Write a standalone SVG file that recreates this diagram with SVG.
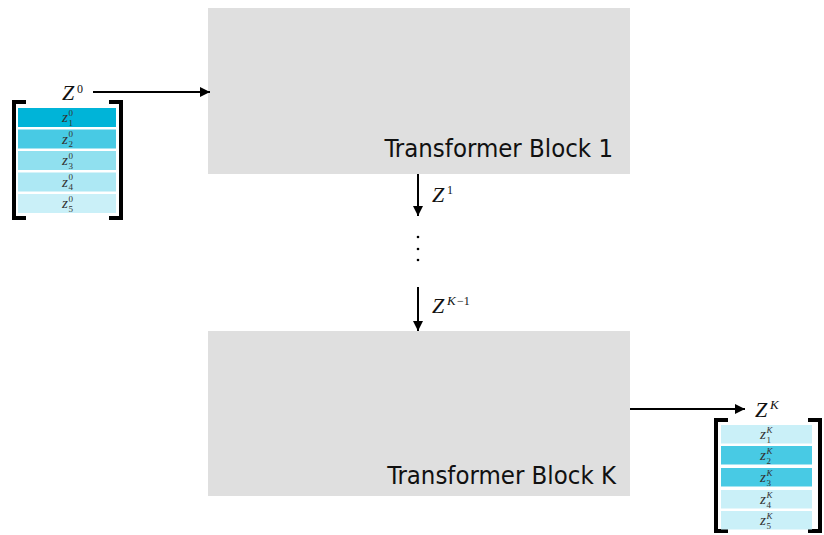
<svg xmlns="http://www.w3.org/2000/svg" width="824" height="535" viewBox="0 0 824 535">
  <defs>
    <marker id="head" viewBox="0 0 10 10" refX="10" refY="5" markerWidth="10" markerHeight="10" markerUnits="userSpaceOnUse" orient="auto">
      <path d="M0,0 L10,5 L0,10 Z" fill="#000"/>
    </marker>
    <style>
      .block { fill: #dfdfdf; }
      .title { font-family: "DejaVu Sans Condensed", "DejaVu Sans", sans-serif; font-size: 25.5px; fill: #111; text-anchor: end; }
      .math { font-family: "Liberation Serif", serif; font-style: italic; font-size: 22px; fill: #111; }
      .sup { font-family: "Liberation Serif", serif; font-size: 12px; fill: #111; }
      .supi { font-family: "Liberation Serif", serif; font-style: italic; font-size: 13px; fill: #111; }
      .cell-text { font-family: "Liberation Serif", serif; font-style: italic; font-size: 15px; fill: #333; }
      .idx { font-family: "Liberation Serif", serif; font-size: 9px; fill: #333; }
      .idxi { font-family: "Liberation Serif", serif; font-style: italic; font-size: 9px; fill: #333; }
      .bracket { fill: none; stroke: #000; stroke-width: 4; }
      .conn { stroke: #000; stroke-width: 2; fill: none; }
    </style>
  </defs>

  <!-- transformer blocks -->
  <g id="block1">
    <rect class="block" x="208" y="8" width="422" height="166"/>
    <text class="title" x="613" y="157">Transformer Block 1</text>
  </g>
  <g id="blockK">
    <rect class="block" x="208" y="331" width="422" height="165"/>
    <text class="title" x="616" y="484">Transformer Block K</text>
  </g>

  <!-- input sequence Z^0 -->
  <g id="input">
    <text class="math" x="62" y="100">Z</text>
    <text class="sup" x="77" y="93">0</text>
    <path class="bracket" d="M26,102 H14 V218 H26"/>
    <path class="bracket" d="M109,102 H121 V218 H109"/>
    <rect x="18" y="108" width="98" height="19" fill="#00b4d8"/>
    <rect x="18" y="129.5" width="98" height="19" fill="#48cae4"/>
    <rect x="18" y="151" width="98" height="19" fill="#90e0ef"/>
    <rect x="18" y="172.5" width="98" height="19" fill="#ade8f4"/>
    <rect x="18" y="194" width="98" height="19" fill="#caf0f8"/>
    <g>
      <text class="cell-text" x="62" y="122">z</text><text class="idx" x="68.5" y="115.5">0</text><text class="idx" x="68.5" y="125.5">1</text>
      <text class="cell-text" x="62" y="143.5">z</text><text class="idx" x="68.5" y="137">0</text><text class="idx" x="68.5" y="147">2</text>
      <text class="cell-text" x="62" y="165">z</text><text class="idx" x="68.5" y="158.5">0</text><text class="idx" x="68.5" y="168.5">3</text>
      <text class="cell-text" x="62" y="186.5">z</text><text class="idx" x="68.5" y="180">0</text><text class="idx" x="68.5" y="190">4</text>
      <text class="cell-text" x="62" y="208">z</text><text class="idx" x="68.5" y="201.5">0</text><text class="idx" x="68.5" y="211.5">5</text>
    </g>
  </g>

  <!-- output sequence Z^K -->
  <g id="output">
    <text class="math" x="755" y="417">Z</text>
    <text class="supi" x="770" y="409">K</text>
    <path class="bracket" d="M728,420 H716 V531 H728"/>
    <path class="bracket" d="M808,420 H820 V531 H808"/>
    <rect x="721" y="425" width="91" height="18.5" fill="#caf0f8"/>
    <rect x="721" y="446" width="91" height="18.5" fill="#48cae4"/>
    <rect x="721" y="468" width="91" height="18.5" fill="#48cae4"/>
    <rect x="721" y="490" width="91" height="18.5" fill="#caf0f8"/>
    <rect x="721" y="511" width="91" height="18.5" fill="#caf0f8"/>
    <g>
      <text class="cell-text" x="760" y="439">z</text><text class="idxi" x="766.5" y="432.5">K</text><text class="idx" x="766.5" y="442.5">1</text>
      <text class="cell-text" x="760" y="460">z</text><text class="idxi" x="766.5" y="453.5">K</text><text class="idx" x="766.5" y="463.5">2</text>
      <text class="cell-text" x="760" y="482">z</text><text class="idxi" x="766.5" y="475.5">K</text><text class="idx" x="766.5" y="485.5">3</text>
      <text class="cell-text" x="760" y="504">z</text><text class="idxi" x="766.5" y="497.5">K</text><text class="idx" x="766.5" y="507.5">4</text>
      <text class="cell-text" x="760" y="525">z</text><text class="idxi" x="766.5" y="518.5">K</text><text class="idx" x="766.5" y="528.5">5</text>
    </g>
  </g>

  <!-- connectors -->
  <g id="connectors">
    <line class="conn" x1="93" y1="92" x2="210" y2="92" marker-end="url(#head)"/>
    <line class="conn" x1="418" y1="174" x2="418" y2="216" marker-end="url(#head)"/>
    <line class="conn" x1="418" y1="287" x2="418" y2="331" marker-end="url(#head)"/>
    <line class="conn" x1="630" y1="409" x2="745" y2="409" marker-end="url(#head)"/>
  </g>

  <!-- edge labels and ellipsis -->
  <g id="labels">
    <text class="math" x="432" y="202">Z</text>
    <text class="sup" x="447" y="194">1</text>
    <text class="math" x="432" y="313">Z</text>
    <text class="supi" x="447" y="305">K</text>
    <text class="sup" x="457" y="305">−1</text>
    <circle cx="418" cy="237" r="1.3" fill="#000"/>
    <circle cx="418" cy="249" r="1.3" fill="#000"/>
    <circle cx="418" cy="260" r="1.3" fill="#000"/>
  </g>
</svg>
